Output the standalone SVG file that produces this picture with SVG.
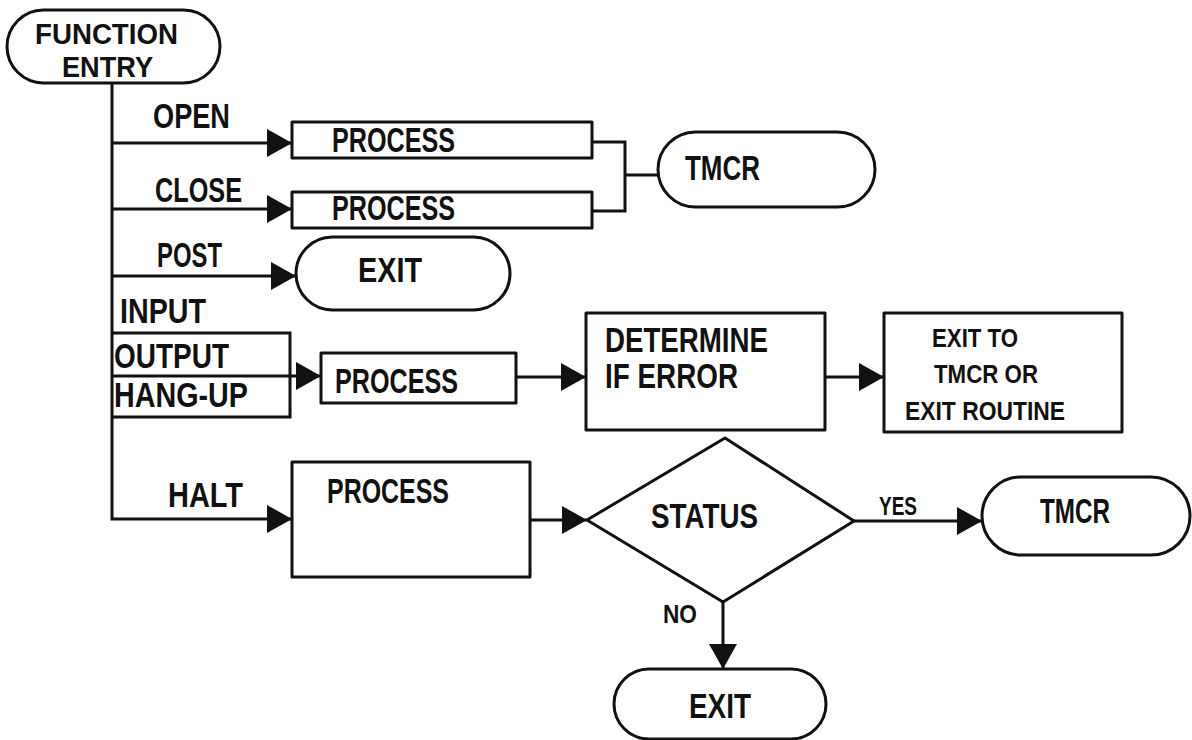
<svg xmlns="http://www.w3.org/2000/svg" width="1192" height="740" viewBox="0 0 1192 740">
<defs>
<style>
.s{fill:none;stroke:#111;stroke-width:3;stroke-linejoin:round}
.t{font-family:"Liberation Sans",Arial,sans-serif;font-weight:bold;font-size:35px;fill:#111}
.m{font-family:"Liberation Sans",Arial,sans-serif;font-weight:bold;font-size:25px;fill:#111}
.c{fill:none;stroke:#111;stroke-width:3}
</style>
<marker id="ah" markerUnits="userSpaceOnUse" markerWidth="26" markerHeight="28" refX="25" refY="14" orient="auto">
<path d="M0,0 L25,14 L0,28 z" fill="#111"/>
</marker>
</defs>
<rect width="1192" height="740" fill="#fff"/>

<g id="connectors">
<path class="c" d="M112,83 V519 H292" marker-end="url(#ah)"/>
<path class="c" d="M112,143 H292" marker-end="url(#ah)"/>
<path class="c" d="M112,209 H292" marker-end="url(#ah)"/>
<path class="c" d="M112,276 H296" marker-end="url(#ah)"/>
<path class="c" d="M112,333 H290 V417 H112"/>
<path class="c" d="M112,376 H321" marker-end="url(#ah)"/>
<path class="c" d="M516,377 H586" marker-end="url(#ah)"/>
<path class="c" d="M825,377 H884" marker-end="url(#ah)"/>
<path class="c" d="M530,520 H587" marker-end="url(#ah)"/>
<path class="c" d="M854,521 H982" marker-end="url(#ah)"/>
<path class="c" d="M723,602 V669" marker-end="url(#ah)"/>
<path class="c" d="M592,142 H625 V211 H592 M625,175 H658"/>
</g>

<g id="function-entry">
<rect class="s" x="7" y="10" width="213" height="73" rx="36.5"/>
<text class="t" style="font-size:29px"><tspan x="35" y="44" textLength="143" lengthAdjust="spacingAndGlyphs">FUNCTION</tspan><tspan x="62" y="77" textLength="91" lengthAdjust="spacingAndGlyphs">ENTRY</tspan></text>
</g>

<g id="labels-branches">
<text class="t" x="153" y="128" textLength="77" lengthAdjust="spacingAndGlyphs">OPEN</text>
<text class="t" x="155" y="202" textLength="87" lengthAdjust="spacingAndGlyphs">CLOSE</text>
<text class="t" x="157" y="267" textLength="65" lengthAdjust="spacingAndGlyphs">POST</text>
<text class="t" x="120" y="323" textLength="86" lengthAdjust="spacingAndGlyphs">INPUT</text>
<text class="t" x="114" y="368" textLength="115" lengthAdjust="spacingAndGlyphs">OUTPUT</text>
<text class="t" x="114" y="407" textLength="134" lengthAdjust="spacingAndGlyphs">HANG-UP</text>
<text class="t" x="168" y="507" textLength="75" lengthAdjust="spacingAndGlyphs">HALT</text>
</g>

<g id="process-open">
<rect class="s" x="292" y="122" width="300" height="36"/>
<text class="t" x="332" y="152" textLength="123" lengthAdjust="spacingAndGlyphs">PROCESS</text>
</g>

<g id="process-close">
<rect class="s" x="292" y="192" width="300" height="36"/>
<text class="t" x="332" y="220" textLength="123" lengthAdjust="spacingAndGlyphs">PROCESS</text>
</g>

<g id="tmcr-top">
<rect class="s" x="658" y="132" width="217" height="75" rx="37.5"/>
<text class="t" x="685" y="180" textLength="75" lengthAdjust="spacingAndGlyphs">TMCR</text>
</g>

<g id="exit-post">
<rect class="s" x="296" y="237" width="214" height="73" rx="36.5"/>
<text class="t" x="358" y="282" textLength="64" lengthAdjust="spacingAndGlyphs">EXIT</text>
</g>

<g id="process-io">
<rect class="s" x="321" y="353" width="195" height="50"/>
<text class="t" x="335" y="393" textLength="123" lengthAdjust="spacingAndGlyphs">PROCESS</text>
</g>

<g id="determine-error">
<rect class="s" x="586" y="313" width="239" height="117"/>
<text class="t" x="605" y="352" textLength="163" lengthAdjust="spacingAndGlyphs">DETERMINE</text>
<text class="t" x="605" y="388" textLength="133" lengthAdjust="spacingAndGlyphs">IF ERROR</text>
</g>

<g id="exit-to">
<rect class="s" x="884" y="313" width="238" height="119"/>
<text class="m" x="932" y="347" textLength="86" lengthAdjust="spacingAndGlyphs">EXIT TO</text>
<text class="m" x="934" y="383" textLength="104" lengthAdjust="spacingAndGlyphs">TMCR OR</text>
<text class="m" x="905" y="420" textLength="160" lengthAdjust="spacingAndGlyphs">EXIT ROUTINE</text>
</g>

<g id="process-halt">
<rect class="s" x="292" y="462" width="238" height="115"/>
<text class="t" x="327" y="503" textLength="122" lengthAdjust="spacingAndGlyphs">PROCESS</text>
</g>

<g id="status">
<polygon class="s" points="725,438 854,521 723,602 587,520"/>
<text class="t" x="651" y="528" textLength="107" lengthAdjust="spacingAndGlyphs">STATUS</text>
<text class="m" x="879" y="515" textLength="38" lengthAdjust="spacingAndGlyphs">YES</text>
<text class="m" x="663" y="623" textLength="34" lengthAdjust="spacingAndGlyphs">NO</text>
</g>

<g id="tmcr-bottom">
<rect class="s" x="982" y="477" width="208" height="78" rx="39"/>
<text class="t" x="1040" y="523" textLength="70" lengthAdjust="spacingAndGlyphs">TMCR</text>
</g>

<g id="exit-bottom">
<rect class="s" x="614" y="669" width="212" height="70" rx="35"/>
<text class="t" x="689" y="718" textLength="62" lengthAdjust="spacingAndGlyphs">EXIT</text>
</g>
</svg>
